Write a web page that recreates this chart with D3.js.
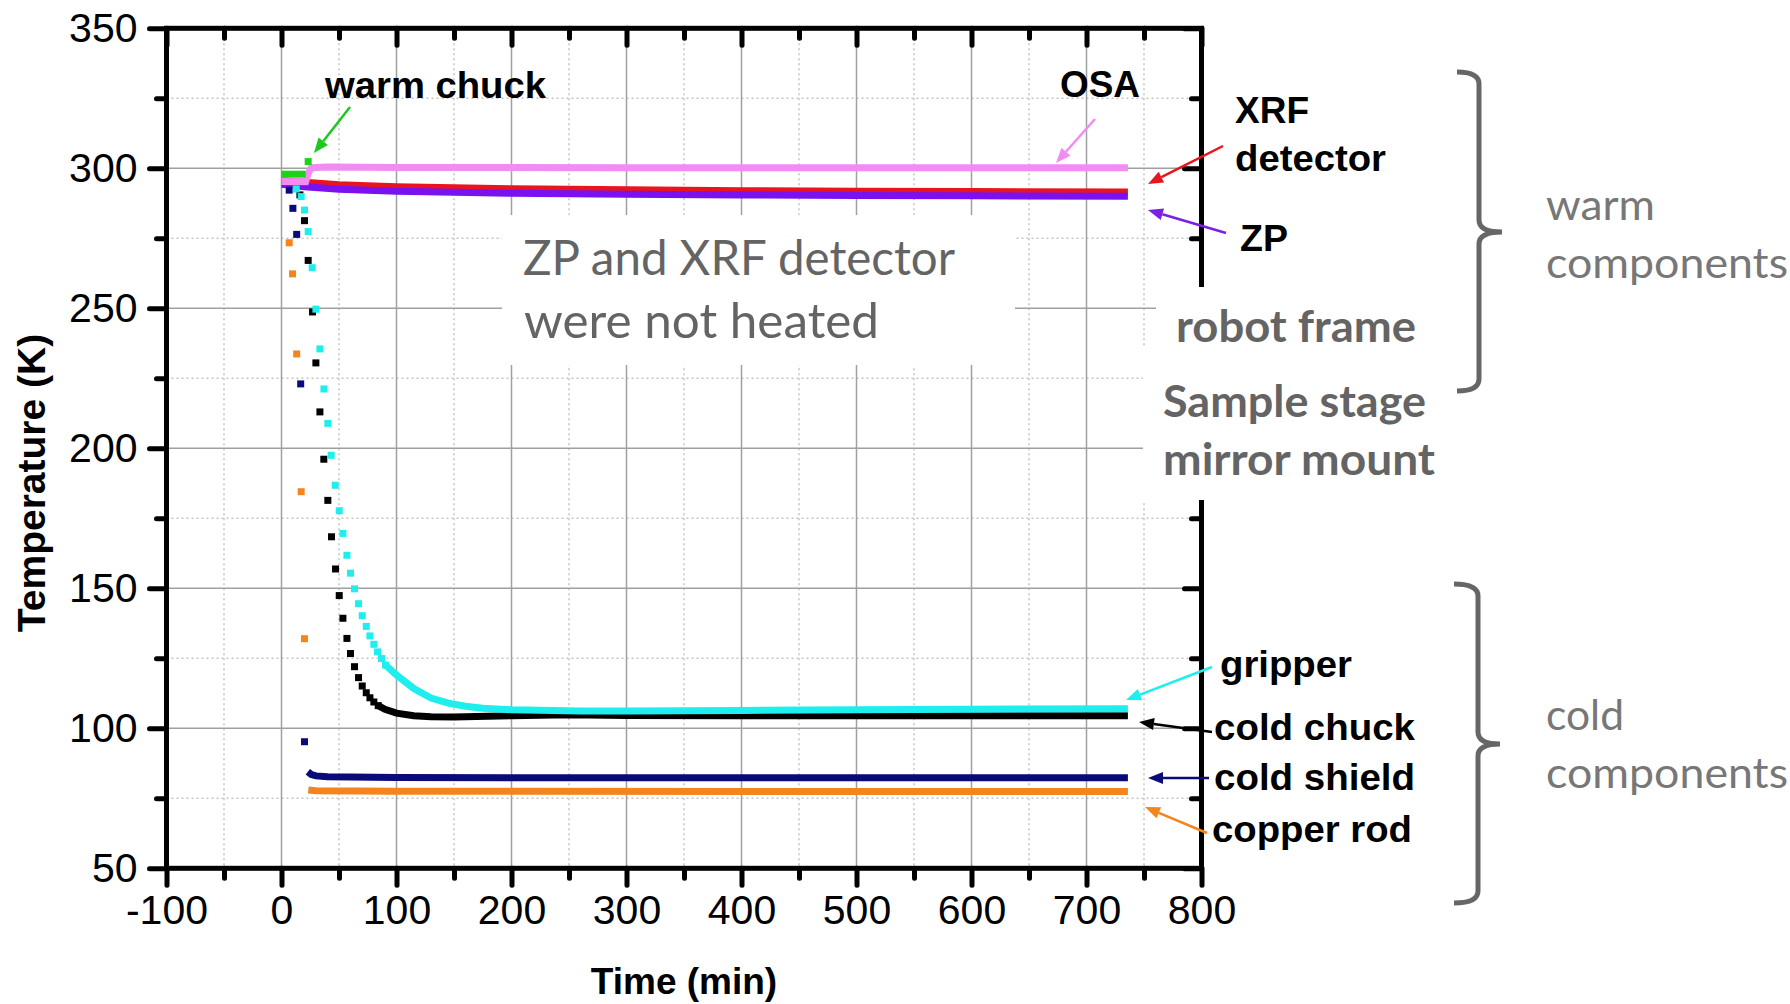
<!DOCTYPE html>
<html>
<head>
<meta charset="utf-8">
<script src="https://cdn.jsdelivr.net/npm/d3@7"></script>
<style>
  body { margin: 0; background: #fff; }
  svg { display: block; }
</style>
</head>
<body>
<div id="chart"></div>
<script>
// ---- axis ticks ----
var xMajor = [-100, 0, 100, 200, 300, 400, 500, 600, 700, 800];
var xMinor = [-50, 50, 150, 250, 350, 450, 550, 650, 750];
var yMajor = [50, 100, 150, 200, 250, 300, 350];
var yMinor = [75, 125, 175, 225, 275, 325];

// ---- readings: [time (min), temperature (K)] ----
// warm components (dense logging -> drawn as thick traces)
var zpLine  = [[0,294.3],[20,293.4],[50,292.5],[100,291.8],[200,291.1],[300,290.7],[400,290.5],[500,290.3],[600,290.2],[736,290.0]];
var xrfLine = [[0,295.6],[20,295.0],[50,294.1],[100,293.4],[200,292.7],[300,292.3],[400,292.0],[500,291.8],[600,291.7],[736,291.5]];
var osaLine = [[0,295.3],[21,295.2],[23,298.0],[26,300.2],[40,300.5],[100,300.3],[300,300.2],[736,300.2]];
var warmChuckLine = [[0,297.9],[21,297.9]];
var warmChuckPts  = [[23.2,302.4]];

// cold components: sparse squares during cool-down, then a dense trace
var gripperPts = [[12.8,292.6],[17.1,289.9],[20,285.1],[23.2,277.4],[26.7,264.5],[29.9,249.7],[33.4,235.5],[36.9,221.2],[40.3,208.9],[43.2,197.5],[46.7,186.8],[50.2,177.7],[53.4,169.6],[56.9,161.8],[60,155.4],[63.5,149.8],[67,144.5],[70.2,140.2],[73.7,136.4],[76.9,133.0],[80.3,130.0],[83.5,127.3],[87,124.9],[90.4,122.6]];
var gripperLine = [[90.4,122.6],[100,119.0],[115,114.2],[130,110.8],[145,109.0],[160,107.9],[175,107.2],[200,106.6],[260,106.2],[300,106.2],[400,106.4],[500,106.6],[600,106.8],[736,107.0]];

var coldChuckPts = [[16,290.5],[20,281.3],[23.2,267.1],[27,248.7],[29.9,230.5],[33.4,213.0],[36.8,196.1],[40.3,181.4],[43.5,168.4],[47,156.9],[50.2,147.4],[53.4,139.3],[56.9,132.1],[60,126.7],[63.5,122.0],[67,118.1],[70.2,115.1],[73.7,112.7],[76.9,110.9],[80.3,109.4],[84.1,108.1]];
var coldChuckLine = [[84.1,108.1],[90,106.8],[100,105.4],[115,104.5],[130,104.1],[150,104.0],[200,104.5],[250,104.8],[300,104.6],[400,104.5],[500,104.5],[600,104.5],[736,104.5]];

var coldShieldPts  = [[6.7,292.2],[9.9,285.7],[13.2,276.4],[16.7,223.0],[20,95.2]];
var coldShieldLine = [[22.9,84.5],[26,83.5],[30,83.0],[40,82.7],[100,82.4],[300,82.3],[736,82.3]];

var copperPts  = [[6.7,273.4],[9.6,262.3],[13.2,233.7],[17.1,184.5],[20,132.0]];
var copperLine = [[23.3,78.0],[30,77.7],[100,77.5],[736,77.4]];

// draw order (bottom to top)
var series = [
  {name: "XRF",         color: "#e8141e", line: xrfLine,       pts: []},
  {name: "ZP",          color: "#7a12f0", line: zpLine,        pts: []},
  {name: "OSA",         color: "#f28cf2", line: osaLine,       pts: []},
  {name: "warm chuck",  color: "#19d419", line: warmChuckLine, pts: warmChuckPts},
  {name: "copper rod",  color: "#f5841c", line: copperLine,    pts: copperPts},
  {name: "cold shield", color: "#0a0a78", line: coldShieldLine, pts: coldShieldPts},
  {name: "cold chuck",  color: "#000000", line: coldChuckLine, pts: coldChuckPts},
  {name: "gripper",     color: "#1eeeee", line: gripperLine,   pts: gripperPts}
];

// ---- annotation layout (page pixels) ----
var labels = [
  {text: "warm chuck",  x: 325,  y: 98,  w: 221, kind: "black"},
  {text: "OSA",         x: 1060, y: 97,  w: 80,  kind: "black"},
  {text: "XRF",         x: 1235, y: 123, w: 74,  kind: "black"},
  {text: "detector",    x: 1235, y: 171, w: 151, kind: "black"},
  {text: "ZP",          x: 1240, y: 251, w: 48,  kind: "black"},
  {text: "gripper",     x: 1220, y: 677, w: 132, kind: "black"},
  {text: "cold chuck",  x: 1214, y: 740, w: 201, kind: "black"},
  {text: "cold shield", x: 1214, y: 790, w: 201, kind: "black"},
  {text: "copper rod",  x: 1212, y: 842, w: 200, kind: "black"},
  {text: "ZP and XRF detector", x: 523, y: 275, w: 432, kind: "grey"},
  {text: "were not heated",     x: 524, y: 338, w: 355, kind: "grey"},
  {text: "robot frame",   x: 1176, y: 342, w: 240, kind: "greyBold"},
  {text: "Sample stage",  x: 1163, y: 417, w: 263, kind: "greyBold"},
  {text: "mirror mount",  x: 1163, y: 475, w: 272, kind: "greyBold"},
  {text: "warm",          x: 1546, y: 220, w: 109, kind: "grey2"},
  {text: "components",    x: 1546, y: 278, w: 242, kind: "grey2"},
  {text: "cold",          x: 1546, y: 730, w: 78,  kind: "grey2"},
  {text: "components",    x: 1546, y: 788, w: 242, kind: "grey2"}
];

var arrows = [
  {color: "#1ec81e", x1: 350,  y1: 107, x2: 314,  y2: 153},
  {color: "#f28cf2", x1: 1095, y1: 119, x2: 1056, y2: 163},
  {color: "#e8141e", x1: 1223, y1: 146, x2: 1148, y2: 184},
  {color: "#7b1fe0", x1: 1226, y1: 233, x2: 1148, y2: 210},
  {color: "#1eeeee", x1: 1212, y1: 667, x2: 1126, y2: 700},
  {color: "#000000", x1: 1212, y1: 732, x2: 1139, y2: 722},
  {color: "#0a0a78", x1: 1209, y1: 778, x2: 1148, y2: 778},
  {color: "#f5841c", x1: 1207, y1: 833, x2: 1145, y2: 807}
];

var braces = [
  {x0: 1457, xv: 1479, xt: 1502, top: 72,  mid: 232, bot: 391},
  {x0: 1454, xv: 1478, xt: 1500, top: 584, mid: 744, bot: 903}
];

var W = 1790, H = 1004;
var svg = d3.select("#chart").append("svg").attr("width", W).attr("height", H);

var x = d3.scaleLinear().domain([-100, 800]).range([166.5, 1201.5]);
var y = d3.scaleLinear().domain([50, 350]).range([868.3, 28.3]);

var plotL = x(-100), plotR = x(800), plotT = y(350), plotB = y(50);

// grid
var grid = svg.append("g");
grid.selectAll(".gxm").data(xMinor).enter().append("line")
  .attr("x1", d => x(d)).attr("x2", d => x(d)).attr("y1", plotT).attr("y2", plotB)
  .attr("stroke", "#c4c4c4").attr("stroke-width", 1.5).attr("stroke-dasharray", "2,3");
grid.selectAll(".gym").data(yMinor).enter().append("line")
  .attr("x1", plotL).attr("x2", plotR).attr("y1", d => y(d)).attr("y2", d => y(d))
  .attr("stroke", "#c4c4c4").attr("stroke-width", 1.5).attr("stroke-dasharray", "2,3");
grid.selectAll(".gx").data(xMajor.slice(1, -1)).enter().append("line")
  .attr("x1", d => x(d)).attr("x2", d => x(d)).attr("y1", plotT).attr("y2", plotB)
  .attr("stroke", "#a0a0a0").attr("stroke-width", 1.5);
grid.selectAll(".gy").data(yMajor.slice(1, -1)).enter().append("line")
  .attr("x1", plotL).attr("x2", plotR).attr("y1", d => y(d)).attr("y2", d => y(d))
  .attr("stroke", "#a0a0a0").attr("stroke-width", 1.5);

// white box behind the "not heated" note
svg.append("rect").attr("x", 502).attr("y", 215).attr("width", 513).attr("height", 150).attr("fill", "#fff");

// data
var line = d3.line().x(d => x(d[0])).y(d => y(d[1]));
var dataG = svg.append("g");
series.forEach(function(s) {
  dataG.append("path").datum(s.line)
    .attr("d", line).attr("fill", "none")
    .attr("stroke", s.color).attr("stroke-width", 7);
  dataG.selectAll(null).data(s.pts).enter().append("rect")
    .attr("x", d => x(d[0]) - 3.5).attr("y", d => y(d[1]) - 3.5)
    .attr("width", 7).attr("height", 7).attr("fill", s.color);
});

// axes
var font = "'Liberation Sans', Arial, sans-serif";
function styleAxis(g) {
  g.select(".domain").remove();
  g.selectAll(".tick line").attr("stroke", "#000").attr("stroke-width", 5).attr("stroke-linecap", "round");
  g.selectAll(".tick text").attr("fill", "#000").style("font-family", font).style("font-size", "41px");
}
var plain = d => String(d);
svg.append("g").attr("transform", "translate(" + plotL + ",0)")
  .call(d3.axisLeft(y).tickValues(yMajor).tickSize(17).tickPadding(12).tickFormat(plain)).call(styleAxis);
svg.append("g").attr("transform", "translate(" + plotL + ",0)")
  .call(d3.axisLeft(y).tickValues(yMinor).tickSize(10).tickFormat("")).call(styleAxis);
svg.append("g").attr("transform", "translate(0," + plotB + ")")
  .call(d3.axisBottom(x).tickValues(xMajor).tickSize(17).tickPadding(10).tickFormat(plain)).call(styleAxis);
svg.append("g").attr("transform", "translate(0," + plotB + ")")
  .call(d3.axisBottom(x).tickValues(xMinor).tickSize(10).tickFormat("")).call(styleAxis);
svg.append("g").attr("transform", "translate(0," + plotT + ")")
  .call(d3.axisTop(x).tickValues(xMajor).tickSize(-17).tickFormat("")).call(styleAxis);
svg.append("g").attr("transform", "translate(0," + plotT + ")")
  .call(d3.axisTop(x).tickValues(xMinor).tickSize(-10).tickFormat("")).call(styleAxis);
svg.append("g").attr("transform", "translate(" + plotR + ",0)")
  .call(d3.axisRight(y).tickValues(yMajor).tickSize(-17).tickFormat("")).call(styleAxis);
svg.append("g").attr("transform", "translate(" + plotR + ",0)")
  .call(d3.axisRight(y).tickValues(yMinor).tickSize(-10).tickFormat("")).call(styleAxis);

svg.append("rect").attr("x", plotL).attr("y", plotT)
  .attr("width", plotR - plotL).attr("height", plotB - plotT)
  .attr("fill", "none").attr("stroke", "#000").attr("stroke-width", 5);

// axis titles
svg.append("text").attr("x", (plotL + plotR) / 2).attr("y", 994)
  .attr("text-anchor", "middle").style("font-family", font).style("font-weight", "bold")
  .style("font-size", "37px").text("Time (min)");
svg.append("text").attr("transform", "translate(31,483) rotate(-90)")
  .attr("text-anchor", "middle").attr("dominant-baseline", "central")
  .style("font-family", font).style("font-weight", "bold")
  .style("font-size", "39px").text("Temperature (K)");

// white boxes hiding part of the right frame
svg.append("rect").attr("x", 1156).attr("y", 287).attr("width", 290).attr("height", 60).attr("fill", "#fff");
svg.append("rect").attr("x", 1143).attr("y", 346).attr("width", 303).attr("height", 154).attr("fill", "#fff");

// arrows
arrows.forEach(function(a) {
  var dx = a.x2 - a.x1, dy = a.y2 - a.y1, len = Math.sqrt(dx * dx + dy * dy);
  var ux = dx / len, uy = dy / len, hl = 15, hw = 6;
  var bx = a.x2 - ux * hl, by = a.y2 - uy * hl;
  svg.append("line").attr("x1", a.x1).attr("y1", a.y1).attr("x2", bx).attr("y2", by)
    .attr("stroke", a.color).attr("stroke-width", 2.5);
  svg.append("polygon")
    .attr("points", [[a.x2, a.y2], [bx - uy * hw, by + ux * hw], [bx + uy * hw, by - ux * hw]].join(" "))
    .attr("fill", a.color);
});

// braces
braces.forEach(function(b) {
  var r = 12;
  var p = "M" + b.x0 + "," + b.top +
    " Q" + b.xv + "," + b.top + " " + b.xv + "," + (b.top + r) +
    " L" + b.xv + "," + (b.mid - r) +
    " Q" + b.xv + "," + b.mid + " " + b.xt + "," + b.mid +
    " Q" + b.xv + "," + b.mid + " " + b.xv + "," + (b.mid + r) +
    " L" + b.xv + "," + (b.bot - r) +
    " Q" + b.xv + "," + b.bot + " " + b.x0 + "," + b.bot;
  svg.append("path").attr("d", p).attr("fill", "none")
    .attr("stroke", "#666").attr("stroke-width", 5);
});

// labels
var styles = {
  black:    {fam: font, weight: "bold", size: 36, fill: "#000"},
  grey:     {fam: "Lato, 'Open Sans', sans-serif", weight: "normal", size: 48, fill: "#646464"},
  greyBold: {fam: "Lato, 'Open Sans', sans-serif", weight: "bold", size: 44, fill: "#646464"},
  grey2:    {fam: "Lato, 'Open Sans', sans-serif", weight: "normal", size: 43, fill: "#777777"}
};
labels.forEach(function(l) {
  var s = styles[l.kind];
  svg.append("text").attr("x", l.x).attr("y", l.y)
    .attr("textLength", l.w).attr("lengthAdjust", "spacingAndGlyphs")
    .style("font-family", s.fam).style("font-weight", s.weight)
    .style("font-size", s.size + "px").attr("fill", s.fill).text(l.text);
});
</script>
</body>
</html>
